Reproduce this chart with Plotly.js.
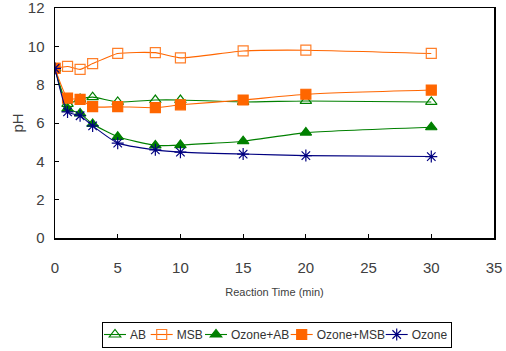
<!DOCTYPE html>
<html><head><meta charset="utf-8">
<script src="https://cdn.plot.ly/plotly-3.0.1.min.js"></script>
<style>html,body{margin:0;padding:0;background:#fff}#c{width:506px;height:351px}</style>
</head><body><div id="c"></div>
<script>
const times = [0, 1, 2, 3, 5, 8, 10, 15, 20, 30];
const AB = [8.85, 7.0, 7.25, 7.35, 7.1, 7.2, 7.2, 7.1, 7.15, 7.1];
const MSB = [8.85, 8.95, 8.8, 9.1, 9.63, 9.67, 9.4, 9.76, 9.8, 9.63];
const OzoneAB = [8.85, 6.75, 6.5, 5.95, 5.28, 4.83, 4.85, 5.05, 5.5, 5.78];
const OzoneMSB = [8.85, 7.3, 7.23, 6.85, 6.85, 6.8, 6.95, 7.2, 7.5, 7.72];
const Ozone = [8.85, 6.58, 6.38, 5.85, 4.95, 4.6, 4.48, 4.38, 4.3, 4.25];
const names = ["AB", "MSB", "Ozone+AB", "Ozone+MSB", "Ozone"];
const xTitle = "Reaction Time (min)";
const yTitle = "pH";

const F = "'Liberation Sans', Arial, sans-serif";
const green = "#008000", orange = "#FF6600", navy = "#000080";
function tr(y, name, color, symbol, mcolor, lcolor) {
  return {x: times, y: y, name: name, type: "scatter", mode: "lines+markers",
    line: {color: color, width: 1.1, shape: "spline", smoothing: 0.5},
    marker: {symbol: symbol, size: 10, color: mcolor, line: {color: lcolor, width: 1.2}}};
}
const data = [
  tr(AB, names[0], green, "triangle-up-open", green, green),
  tr(MSB, names[1], orange, "square-open", "#FF7F2A", "#FF7F2A"),
  tr(OzoneAB, names[2], green, "triangle-up", green, green),
  tr(OzoneMSB, names[3], orange, "square", orange, orange),
  tr(Ozone, names[4], navy, "asterisk-open", navy, navy)
];
const layout = {
  width: 506, height: 351,
  margin: {l: 55, r: 12, t: 8, b: 113},
  paper_bgcolor: "#fff", plot_bgcolor: "#fff",
  font: {family: F, color: "#404040", size: 14},
  showlegend: true,
  legend: {orientation: "h", x: 0.505, xanchor: "center", y: -0.25, yanchor: "top",
    bordercolor: "#000", borderwidth: 1, font: {family: F, size: 12, color: "#333"},
    itemwidth: 30, tracegroupgap: 0},
  xaxis: {range: [0, 35], dtick: 5, tick0: 0, showgrid: false, zeroline: false, automargin: false,
    showline: true, linecolor: "#000", linewidth: 1.5, mirror: true, ticklabeloverflow: "allow",
    ticks: "inside", ticklen: 4, tickcolor: "#000", ticklabelstandoff: 15,
    tickfont: {family: F, size: 15, color: "#404040"},
    title: {text: xTitle, font: {family: F, size: 11, color: "#404040"}, standoff: 14}},
  yaxis: {range: [0, 12.001], dtick: 2, tick0: 0, showgrid: false, zeroline: false, automargin: false,
    showline: true, linecolor: "#000", linewidth: 1.5, mirror: true, ticklabeloverflow: "allow",
    ticks: "inside", ticklen: 4, tickcolor: "#000", ticklabelstandoff: 6,
    tickfont: {family: F, size: 15, color: "#404040"},
    title: {text: yTitle, font: {family: F, size: 15, color: "#404040"}, standoff: 0}}
};
const gd = document.getElementById("c");
Plotly.newPlot(gd, data, layout, {displayModeBar: false, staticPlot: true}).then(function () {
  // compact legend entries (Excel-style short sample lines)
  try {
    const markerX = [115, 161.7, 216, 301.7, 396.7];
    const box = {x: 102, y: 322, w: 349, h: 25};
    gd.querySelectorAll(".legend .scrollbox").forEach(function (s) { s.removeAttribute("clip-path"); });
    const items = gd.querySelectorAll(".legend .traces");
    items.forEach(function (it, i) {
      const ctm = it.parentNode.getScreenCTM();
      const ox = markerX[i] - 11 - ctm.e;
      const oy = (box.y + box.h / 2) - ctm.f;
      it.setAttribute("transform", "translate(" + ox + "," + oy + ")");
      it.querySelectorAll(".legendlines path").forEach(function (p) { p.setAttribute("d", "M0,0h22"); });
      it.querySelectorAll(".legendpoints path").forEach(function (p) { p.setAttribute("transform", "translate(11,0)"); });
      const txt = it.querySelector("text.legendtext");
      if (txt) txt.setAttribute("x", 26);
    });
    const bg = gd.querySelector(".legend rect.bg");
    if (bg) {
      const c2 = bg.parentNode.getScreenCTM();
      bg.setAttribute("x", box.x - c2.e);
      bg.setAttribute("y", box.y - c2.f);
      bg.setAttribute("width", box.w);
      bg.setAttribute("height", box.h);
    }
  } catch (e) {}
});
</script></body></html>
